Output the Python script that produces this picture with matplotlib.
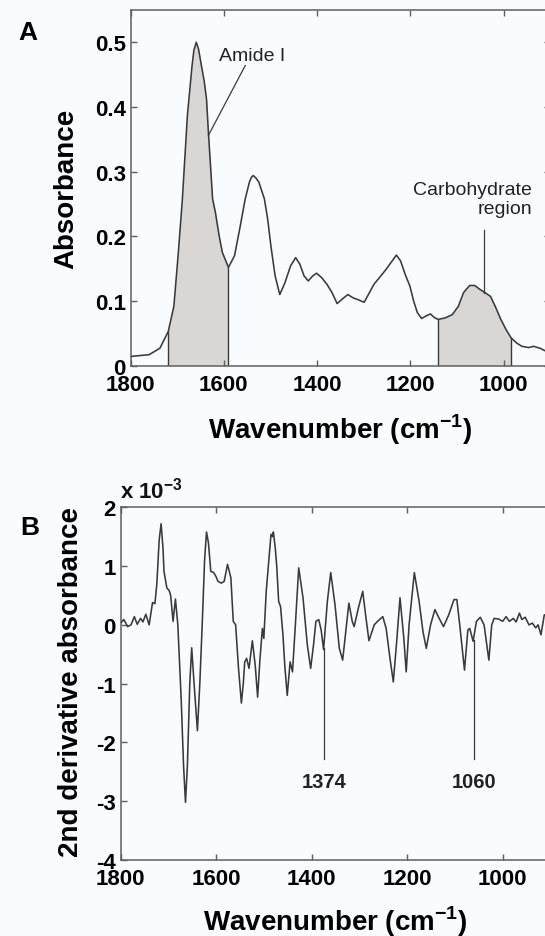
import numpy as np
import matplotlib
matplotlib.use('Agg')
import matplotlib.pyplot as plt

plt.rcParams['font.family'] = ['Liberation Sans', 'DejaVu Sans']
plt.rcParams['axes.unicode_minus'] = False
plt.rcParams['mathtext.fontset'] = 'custom'
plt.rcParams['mathtext.rm'] = 'Liberation Sans'
plt.rcParams['mathtext.bf'] = 'Liberation Sans:bold'

# ---------------- data ----------------
abs_wn = [1800, 1797, 1760, 1737, 1719, 1707, 1698, 1689, 1678, 1668, 1664, 1659, 1654,
          1648, 1642, 1637, 1633, 1624, 1618, 1610, 1603, 1590, 1577, 1566, 1554, 1545,
          1541, 1537, 1531, 1525, 1513, 1506, 1499, 1490, 1480, 1469, 1457, 1446, 1437,
          1428, 1419, 1409, 1401, 1390, 1379, 1368, 1357, 1346, 1334, 1323, 1312, 1299,
          1290, 1278, 1263, 1252, 1241, 1230, 1221, 1211, 1201, 1193, 1185, 1176, 1166,
          1157, 1148, 1140, 1125, 1110, 1097, 1086, 1073, 1062, 1051, 1040, 1028, 1017,
          1006, 995, 984, 972, 961, 946, 936, 922, 911]
abs_val = [0.014, 0.0145, 0.017, 0.027, 0.053, 0.092, 0.17, 0.255, 0.387, 0.464, 0.488,
           0.500, 0.489, 0.464, 0.440, 0.412, 0.361, 0.258, 0.237, 0.201, 0.175, 0.152,
           0.170, 0.211, 0.258, 0.284, 0.291, 0.294, 0.290, 0.284, 0.258, 0.227, 0.185,
           0.139, 0.110, 0.128, 0.154, 0.167, 0.157, 0.139, 0.131, 0.139, 0.143, 0.136,
           0.126, 0.113, 0.096, 0.103, 0.110, 0.105, 0.102, 0.098, 0.110, 0.126, 0.139,
           0.149, 0.160, 0.171, 0.162, 0.141, 0.123, 0.100, 0.082, 0.073, 0.077, 0.080,
           0.074, 0.0715, 0.074, 0.079, 0.092, 0.113, 0.124, 0.124, 0.118, 0.113, 0.107,
           0.090, 0.0715, 0.056, 0.043, 0.035, 0.030, 0.028, 0.030, 0.027, 0.023]

amide_range = [1719, 1590]
carb_range = [1140, 985]

deriv_wn = [1800, 1793, 1785, 1778, 1771, 1765, 1758, 1753, 1747, 1740, 1733, 1728, 1724,
            1719, 1715, 1711, 1709, 1703, 1698, 1695, 1690, 1685, 1680, 1673, 1668, 1664,
            1660, 1655, 1651, 1646, 1639, 1634, 1629, 1624, 1620, 1616, 1611, 1605, 1600,
            1596, 1589, 1583, 1576, 1569, 1564, 1559, 1553, 1547, 1543, 1540, 1536, 1531,
            1524, 1518, 1513, 1508, 1503, 1500, 1495, 1489, 1485, 1482, 1480, 1476, 1473,
            1469, 1465, 1460, 1456, 1451, 1445, 1440, 1434, 1427, 1418, 1409, 1402, 1396,
            1391, 1385, 1380, 1375, 1367, 1360, 1351, 1342, 1335, 1327, 1322, 1315, 1311,
            1302, 1293, 1287, 1280, 1269, 1262, 1251, 1244, 1236, 1229, 1222, 1215, 1207,
            1202, 1196, 1185, 1175, 1167, 1160, 1151, 1142, 1133, 1124, 1113, 1102, 1096,
            1090, 1080, 1073, 1069, 1062, 1055, 1047, 1039, 1029, 1023, 1018, 1009, 1000,
            993, 986, 978, 972, 965, 960, 953, 945, 938, 931, 926, 920, 913, 911]
deriv_val = [0.03, 0.09, -0.03, 0.0, 0.14, 0.01, 0.11, 0.05, 0.18, 0.0, 0.38, 0.36, 0.69,
             1.45, 1.72, 1.30, 0.91, 0.63, 0.58, 0.50, 0.06, 0.44, 0.0, -1.26, -2.40, -3.02,
             -2.40, -1.00, -0.39, -1.00, -1.80, -1.00, 0.0, 1.10, 1.58, 1.40, 0.91, 0.89,
             0.82, 0.74, 0.71, 0.74, 1.03, 0.80, 0.06, 0.0, -0.74, -1.33, -1.00, -0.63,
             -0.57, -0.74, -0.27, -0.69, -1.23, -0.57, -0.06, -0.23, 0.57, 1.14, 1.54, 1.50,
             1.58, 1.30, 1.00, 0.40, 0.31, -0.17, -0.71, -1.20, -0.63, -0.80, 0.0, 0.97,
             0.46, -0.34, -0.74, -0.34, 0.06, 0.09, -0.09, -0.42, 0.40, 0.89, 0.34, -0.40,
             -0.60, 0.0, 0.37, 0.06, -0.03, 0.29, 0.57, 0.17, -0.27, 0.0, 0.06, 0.14, -0.06,
             -0.57, -0.97, -0.29, 0.46, -0.23, -0.80, 0.0, 0.89, 0.40, -0.11, -0.40, 0.0,
             0.26, 0.11, -0.03, 0.17, 0.43, 0.43, 0.0, -0.77, -0.09, -0.06, -0.28, 0.06,
             0.13, 0.0, -0.60, 0.0, 0.11, 0.10, 0.06, 0.14, 0.06, 0.11, 0.05, 0.20, 0.09,
             0.13, 0.0, 0.03, -0.05, 0.0, -0.17, 0.17, 0.17]

peak_marks = [1374, 1060]
peak_labels = ['1374', '1060']

x_ticks = [1800, 1600, 1400, 1200, 1000]
x_ticklabels = ['1800', '1600', '1400', '1200', '1000']
a_yticks = [0, 0.1, 0.2, 0.3, 0.4, 0.5]
a_yticklabels = ['0', '0.1', '0.2', '0.3', '0.4', '0.5']
b_yticks = [-4, -3, -2, -1, 0, 1, 2]
b_yticklabels = ['-4', '-3', '-2', '-1', '0', '1', '2']

# ---------------- style ----------------
BG = '#fafbfd'
LINE = '#3a3a3a'
SPINE = '#5f5f5f'
FILL = '#d9d6d6'
W, H = 545, 937

fig = plt.figure(figsize=(W / 100, H / 100), dpi=100, facecolor=BG)
axA = fig.add_axes([130.5 / W, 1 - 366.7 / H, 419.8 / W, 355.8 / H], facecolor=BG)
axB = fig.add_axes([120.5 / W, 1 - 861.0 / H, 430.0 / W, 352.7 / H], facecolor=BG)

for ax in (axA, axB):
    for sp in ax.spines.values():
        sp.set_color(SPINE)
        sp.set_linewidth(1.1)
    ax.tick_params(direction='in', top=True, right=True, length=4, width=1,
                   color=SPINE, labelsize=16)
    ax.tick_params(axis='x', pad=6)
    ax.tick_params(axis='y', pad=3.5)
    ax.set_xlim(1800, 900)
    ax.set_xticks(x_ticks)
    ax.set_xticklabels(x_ticklabels, fontweight='bold')

# ---------------- panel A ----------------
wnA = np.array(abs_wn, dtype=float)
vA = np.array(abs_val, dtype=float)
xs_inc = wnA[::-1]
vs_inc = vA[::-1]

def region(hi, lo):
    mask = (wnA < hi) & (wnA > lo)
    xs = np.concatenate([[hi], wnA[mask], [lo]])
    ys = np.interp(xs, xs_inc, vs_inc)
    return xs, ys

for rng in (amide_range, carb_range):
    xs, ys = region(rng[0], rng[1])
    axA.fill_between(xs, 0, ys, color=FILL, lw=0, zorder=1)
    axA.vlines(rng, 0, np.interp(rng, xs_inc, vs_inc), color=LINE, lw=1.0, zorder=2)

axA.plot(wnA, vA, color=LINE, lw=1.15, zorder=3, solid_joinstyle='round')
axA.set_ylim(0, 0.55)
axA.set_yticks(a_yticks)
axA.set_yticklabels(a_yticklabels, fontweight='bold')

axA.set_xlabel(r'Wavenumber (cm$^{\mathbf{-1}}$)', fontsize=20, fontweight='bold')
axA.xaxis.set_label_coords(0.5, -0.129)
axA.set_ylabel('Absorbance', fontsize=20, fontweight='bold')
axA.yaxis.set_label_coords(-0.121, 0.5)

axA.plot([1554, 1633], [0.464, 0.356], color=LINE, lw=0.9)
axA.text(1610, 0.480, 'Amide I', fontsize=14, ha='left', va='center', color='#222222')
axA.plot([1043, 1043], [0.209, 0.113], color=LINE, lw=0.9)
axA.text(939, 0.257, 'Carbohydrate\nregion', fontsize=14, ha='right', va='center',
         multialignment='right', color='#222222', linespacing=1.15)

# ---------------- panel B ----------------
wnB = np.array(deriv_wn, dtype=float)
vB = np.array(deriv_val, dtype=float)
axB.plot(wnB, vB, color=LINE, lw=1.15, zorder=3, solid_joinstyle='round')
axB.set_ylim(-4, 2)
axB.set_yticks(b_yticks)
axB.set_yticklabels(b_yticklabels, fontweight='bold')

axB.set_xlabel(r'Wavenumber (cm$^{\mathbf{-1}}$)', fontsize=20, fontweight='bold')
axB.xaxis.set_label_coords(0.5, -0.122)
axB.set_ylabel('2nd derivative absorbance', fontsize=20, fontweight='bold')
axB.yaxis.set_label_coords(-0.086, 0.507)

for pk, lab in zip(peak_marks, peak_labels):
    top = np.interp(pk, wnB[::-1], vB[::-1]) - 0.08
    axB.plot([pk, pk], [top, -2.29], color=LINE, lw=0.9)
    axB.text(pk, -2.66, lab, fontsize=14.5, fontweight='bold', ha='center', va='center',
             color='#222222')

axB.text(0.0, 1.028, r'x 10$^{\mathbf{-3}}$', transform=axB.transAxes, fontsize=16,
         fontweight='bold', ha='left', va='baseline', color='#111111')

fig.text(18 / W, 1 - 40 / H, 'A', fontsize=19, fontweight='bold', ha='left', va='baseline')
fig.text(20 / W, 1 - 535 / H, 'B', fontsize=19, fontweight='bold', ha='left', va='baseline')

fig.savefig('out.png', dpi=100, facecolor=BG)
